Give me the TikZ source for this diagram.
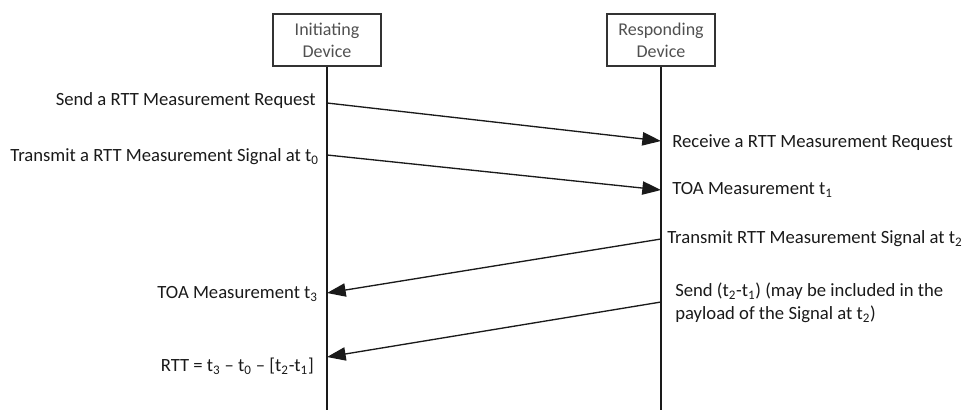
\documentclass[tikz,border=0pt]{standalone}
\usepackage{fontspec}
\setmainfont{Carlito}
\usetikzlibrary{arrows.meta}
\definecolor{ink}{HTML}{1A1A1A}
\definecolor{boxtext}{HTML}{505050}
\definecolor{boxline}{HTML}{333333}
\begin{document}
\begin{tikzpicture}[x=0.75pt,y=-0.75pt,
  devbox/.style={draw=boxline,line width=1.1pt,minimum width=81pt,minimum height=39pt,inner sep=0pt,align=center,text=boxtext,font=\fontsize{13.5}{16.5}\selectfont},
  lifeline/.style={draw=ink,line width=1.1pt},
  msg/.style={draw=ink,line width=1.0pt,-{Triangle[length=14pt,width=10pt]}},
  lbl/.style={text=ink,inner sep=0pt,font=\fontsize{14}{17.5}\selectfont}]
\useasboundingbox (0,0) rectangle (966,410);
\node[devbox] (init) at (327,40) {Initiating\\Device};
\node[devbox] (resp) at (661,40) {Responding\\Device};
\coordinate (iend) at (327,410);
\coordinate (rend) at (661,410);
\draw[lifeline] (init.south) -- (iend);
\draw[lifeline] (resp.south) -- (rend);
% message points
\coordinate (a1) at (327,103);
\coordinate (b1) at (661,141);
\coordinate (a2) at (327,155);
\coordinate (b2) at (661,190);
\coordinate (b3) at (661,239);
\coordinate (a3) at (327,293);
\coordinate (b4) at (661,302);
\coordinate (a4) at (327,357);
\draw[msg] (a1) -- (b1);
\draw[msg] (a2) -- (b2);
\draw[msg] (b3) -- (a3);
\draw[msg] (b4) -- (a4);
% labels
\node[lbl,anchor=east] (l1) at (316,101) {Send a RTT Measurement Request};
\node[lbl,anchor=east] (l2) at (319,157) {Transmit a RTT Measurement Signal at t\textsubscript{0}};
\node[lbl,anchor=west] (r1) at (672,143) {Receive a RTT Measurement Request};
\node[lbl,anchor=west] (r2) at (672,190) {TOA Measurement t\textsubscript{1}};
\node[lbl,anchor=west] (r3) at (667,239) {Transmit RTT Measurement Signal at t\textsubscript{2}};
\node[lbl,anchor=west,align=left] (r4) at (675,303) {Send (t\textsubscript{2}-t\textsubscript{1}) (may be included in the\\payload of the Signal at t\textsubscript{2})};
\node[lbl,anchor=east] (l3) at (318,294) {TOA Measurement t\textsubscript{3}};
\node[lbl,anchor=east] (l4) at (314,366) {RTT = t\textsubscript{3} \textendash{} t\textsubscript{0} \textendash{} [t\textsubscript{2}-t\textsubscript{1}]};
\end{tikzpicture}
\end{document}
